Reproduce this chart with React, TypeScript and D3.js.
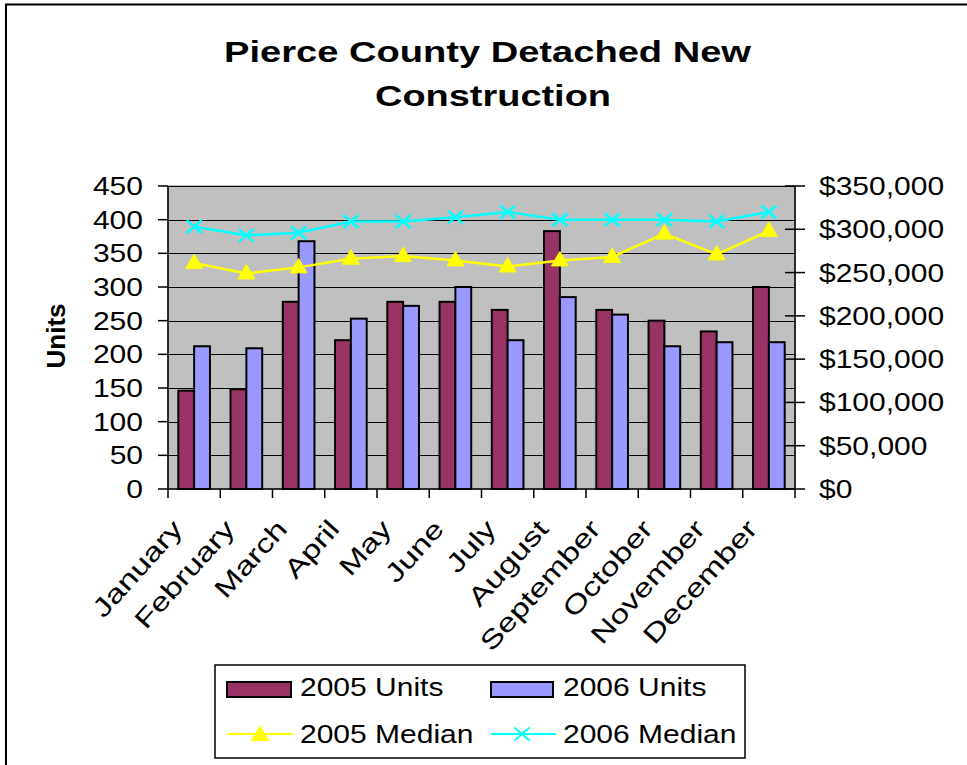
import React from 'react';
import * as d3 from 'd3';

const months = ['January', 'February', 'March', 'April', 'May', 'June', 'July', 'August', 'September', 'October', 'November', 'December'];
const units2005 = [146, 148, 278, 221, 278, 278, 266, 383, 266, 250, 234, 300];
const units2006 = [212, 209, 368, 253, 272, 300, 221, 285, 259, 212, 218, 218];
const median2005 = [261000, 249000, 256000, 266000, 269000, 264000, 257000, 264000, 268000, 295000, 271000, 298000];
const median2006 = [303000, 293000, 296000, 309000, 309000, 314000, 320000, 311000, 311000, 311000, 309000, 320000];
const unitTicks = [0, 50, 100, 150, 200, 250, 300, 350, 400, 450];
const priceTicks = [0, 50000, 100000, 150000, 200000, 250000, 300000, 350000];
const seriesNames = ['2005 Units', '2006 Units', '2005 Median', '2006 Median'];
const titleLines = ['Pierce County Detached New', 'Construction'];
const yAxisTitle = 'Units';

const FONT = '"Liberation Sans", Arial, sans-serif';
const C05 = '#993366';
const C06 = '#9999FF';
const CM05 = '#FFFF00';
const CM06 = '#00FFFF';
const SX = 1.2;

const triPath = 'M0,-9L8.5,5.5L-8.5,5.5Z';
const xPath = 'M-7.5,-6.5L7.5,6.5M-7.5,6.5L7.5,-6.5';

export default function App() {
  const W = 967, H = 765;
  const plot = { left: 168, right: 795, top: 186, bottom: 489 };
  const x = d3.scaleBand<string>().domain(months).range([plot.left, plot.right]).padding(0);
  const xSub = d3.scaleBand<string>().domain(['2005', '2006']).range([0, x.bandwidth()]).paddingInner(0).paddingOuter(0.65);
  const yL = d3.scaleLinear().domain([0, 450]).range([plot.bottom, plot.top]);
  const yR = d3.scaleLinear().domain([0, 350000]).range([plot.bottom, plot.top]);
  const cx = (i: number) => (x(months[i]) as number) + x.bandwidth() / 2;
  const line = d3.line<number>().x((_, i) => cx(i)).y(d => yR(d));
  const fmt = (v: number) => '$' + d3.format(',')(v);
  const boundaries = months.map(m => x(m) as number).concat([plot.right]);

  return (
    <svg width={W} height={H} style={{ position: 'absolute', left: 0, top: 0, background: '#fff' }} fontFamily={FONT}>
      {/* outer border */}
      <path d={`M6,${H}L6,4.5L${W},4.5`} fill="none" stroke="#000" strokeWidth={2} />

      {/* title */}
      <text x={487.5} y={62} textAnchor="middle" fontSize={29} fontWeight="bold" textLength={527} lengthAdjust="spacingAndGlyphs">{titleLines[0]}</text>
      <text x={493} y={106} textAnchor="middle" fontSize={29} fontWeight="bold" textLength={236} lengthAdjust="spacingAndGlyphs">{titleLines[1]}</text>

      {/* plot background */}
      <rect x={plot.left} y={plot.top} width={plot.right - plot.left} height={plot.bottom - plot.top} fill="#C0C0C0" stroke="#808080" strokeWidth={1} />

      {/* gridlines */}
      {unitTicks.filter(t => t > 0).map(t => (
        <line key={'g' + t} x1={plot.left} x2={plot.right} y1={Math.round(yL(t)) + 0.5} y2={Math.round(yL(t)) + 0.5} stroke="#000" strokeWidth={1} />
      ))}

      {/* bars */}
      {months.map((m, i) => (
        <g key={'b' + m}>
          <rect x={(x(m) as number) + (xSub('2005') as number)} y={yL(units2005[i])} width={xSub.bandwidth()} height={yL(0) - yL(units2005[i])} fill={C05} stroke="#000" strokeWidth={2} />
          <rect x={(x(m) as number) + (xSub('2006') as number)} y={yL(units2006[i])} width={xSub.bandwidth()} height={yL(0) - yL(units2006[i])} fill={C06} stroke="#000" strokeWidth={2} />
        </g>
      ))}

      {/* lines */}
      <path d={line(median2005) || ''} fill="none" stroke={CM05} strokeWidth={2.5} />
      <path d={line(median2006) || ''} fill="none" stroke={CM06} strokeWidth={2.5} />
      {median2005.map((v, i) => (
        <path key={'t' + i} d={triPath} transform={`translate(${cx(i)},${yR(v)})`} fill={CM05} stroke={CM05} strokeWidth={1} />
      ))}
      {median2006.map((v, i) => (
        <path key={'x' + i} d={xPath} transform={`translate(${cx(i)},${yR(v)})`} fill="none" stroke={CM06} strokeWidth={2.5} />
      ))}

      {/* axes lines */}
      <line x1={plot.left} x2={plot.left} y1={plot.top} y2={plot.bottom} stroke="#000" strokeWidth={1.5} />
      <line x1={plot.right} x2={plot.right} y1={plot.top} y2={plot.bottom} stroke="#000" strokeWidth={1.5} />
      <line x1={plot.left} x2={plot.right} y1={plot.bottom} y2={plot.bottom} stroke="#000" strokeWidth={1.5} />

      {/* left axis ticks + labels */}
      {unitTicks.map(t => (
        <g key={'l' + t}>
          <line x1={plot.left - 10} x2={plot.left} y1={yL(t)} y2={yL(t)} stroke="#000" strokeWidth={1.5} />
          <text transform={`translate(143,${yL(t) + 9}) scale(${SX},1)`} textAnchor="end" fontSize={25}>{t}</text>
        </g>
      ))}

      {/* right axis ticks + labels */}
      {priceTicks.map(t => (
        <g key={'r' + t}>
          <line x1={plot.right - 10} x2={plot.right + 10} y1={yR(t)} y2={yR(t)} stroke="#000" strokeWidth={1.5} />
          <text transform={`translate(819,${yR(t) + 9}) scale(${SX},1)`} textAnchor="start" fontSize={25}>{fmt(t)}</text>
        </g>
      ))}

      {/* category ticks */}
      {boundaries.map((b, i) => (
        <line key={'c' + i} x1={b} x2={b} y1={plot.bottom} y2={plot.bottom + 9} stroke="#000" strokeWidth={1.5} />
      ))}
      {months.map((m, i) => (
        <text key={'cl' + m} transform={`translate(${cx(i) - 10},530) rotate(-48) scale(1.3,1)`} textAnchor="end" fontSize={26}>{m}</text>
      ))}

      {/* y axis title */}
      <text transform={`translate(65,336) rotate(-90)`} textAnchor="middle" fontSize={26} fontWeight="bold">{yAxisTitle}</text>

      {/* legend */}
      <rect x={215} y={665} width={530} height={93} fill="#fff" stroke="#000" strokeWidth={1.5} />
      <rect x={227} y={682} width={64} height={15} fill={C05} stroke="#000" strokeWidth={2} />
      <text transform={`translate(300,696) scale(${SX},1)`} fontSize={25}>{seriesNames[0]}</text>
      <rect x={491} y={682} width={62} height={15} fill={C06} stroke="#000" strokeWidth={2} />
      <text transform={`translate(563,696) scale(${SX},1)`} fontSize={25}>{seriesNames[1]}</text>
      <line x1={227} x2={293} y1={734} y2={734} stroke={CM05} strokeWidth={2} />
      <path d={triPath} transform="translate(260,735)" fill={CM05} stroke={CM05} />
      <text transform={`translate(300,743) scale(${SX},1)`} fontSize={25}>{seriesNames[2]}</text>
      <line x1={491} x2={556} y1={734} y2={734} stroke={CM06} strokeWidth={2} />
      <path d={xPath} transform="translate(522,734)" fill="none" stroke={CM06} strokeWidth={2} />
      <text transform={`translate(563,743) scale(${SX},1)`} fontSize={25}>{seriesNames[3]}</text>
    </svg>
  );
}
